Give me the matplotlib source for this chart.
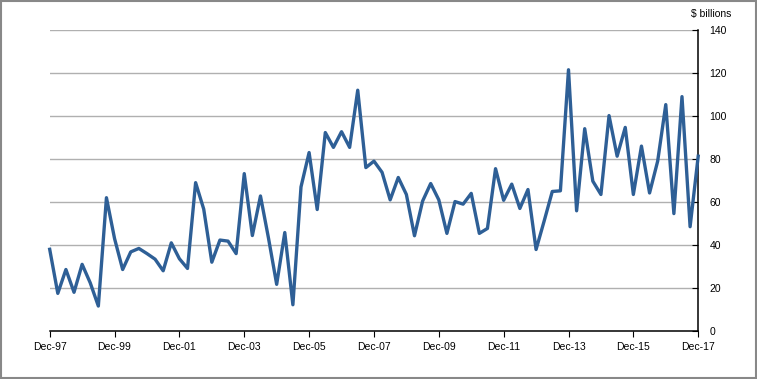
import matplotlib.pyplot as plt
import numpy as np

# quarterly values, Dec-97 to Dec-17 ($ billions)
values = [
    38, 17.5, 28.6, 18, 31, 22.4, 11.6, 62,
    43, 28.6, 36.8, 38.4, 36, 33.4, 28, 41,
    33.6, 29.1, 69, 56.7, 32, 42.3, 41.8, 36,
    73.2, 44.4, 62.8, 43, 21.7, 45.8, 12.2, 67,
    83, 56.5, 92.3, 85.4, 92.7, 85.4, 112, 76,
    79, 73.8, 61, 71.4, 63.5, 44.3, 60.4, 68.6,
    61, 45.4, 60.2, 59, 64, 45.4, 47.7, 75.5,
    60.8, 68.3, 57, 65.8, 37.9, 51.2, 64.9, 65.2,
    121.5, 55.9, 94.1, 69.7, 63.5, 100.2, 81.3, 94.7,
    63.5, 86, 64.2, 79, 105.3, 54.6, 109, 48.5,
    81.3,
]
tick_labels = ["Dec-97", "Dec-99", "Dec-01", "Dec-03", "Dec-05", "Dec-07",
               "Dec-09", "Dec-11", "Dec-13", "Dec-15", "Dec-17"]
y_ticks = [0, 20, 40, 60, 80, 100, 120, 140]

plt.rc("font", family=["Liberation Sans", "DejaVu Sans"], size=7.5)

fig = plt.figure(figsize=(7.57, 3.79), dpi=100)
ax = fig.add_axes([49.7 / 757, 48 / 379, 648.5 / 757, 301 / 379])

x = np.arange(len(values))
ax.plot(x, values, color="#2E5F96", linewidth=2.4, clip_on=False, zorder=3)

ax.set_xlim(0, len(values) - 1)
ax.set_ylim(0, 140)
ax.set_xticks(np.arange(0, len(values), 8))
ax.set_xticklabels(tick_labels)
ax.set_yticks(y_ticks)

ax.yaxis.tick_right()
ax.tick_params(axis="y", direction="in", length=4, pad=8, colors="black")
ax.tick_params(axis="x", direction="out", length=4, pad=4, colors="black")

for yt in y_ticks[1:]:
    ax.axhline(yt, color="#b0b0b0", linewidth=1.0, zorder=0)

ax.spines["left"].set_visible(False)
ax.spines["top"].set_visible(False)
ax.spines["right"].set_linewidth(1.1)
ax.spines["bottom"].set_linewidth(1.1)

fig.text(711 / 757, 1 - 14 / 379, "$ billions", ha="center", va="center",
         fontsize=7.5)

# outer frame
fig.patches.append(plt.Rectangle((0.001, 0.002), 0.998, 0.996, fill=False,
                                 edgecolor="#888888", linewidth=1.5,
                                 transform=fig.transFigure, figure=fig))

fig.savefig("out.png", dpi=100)
